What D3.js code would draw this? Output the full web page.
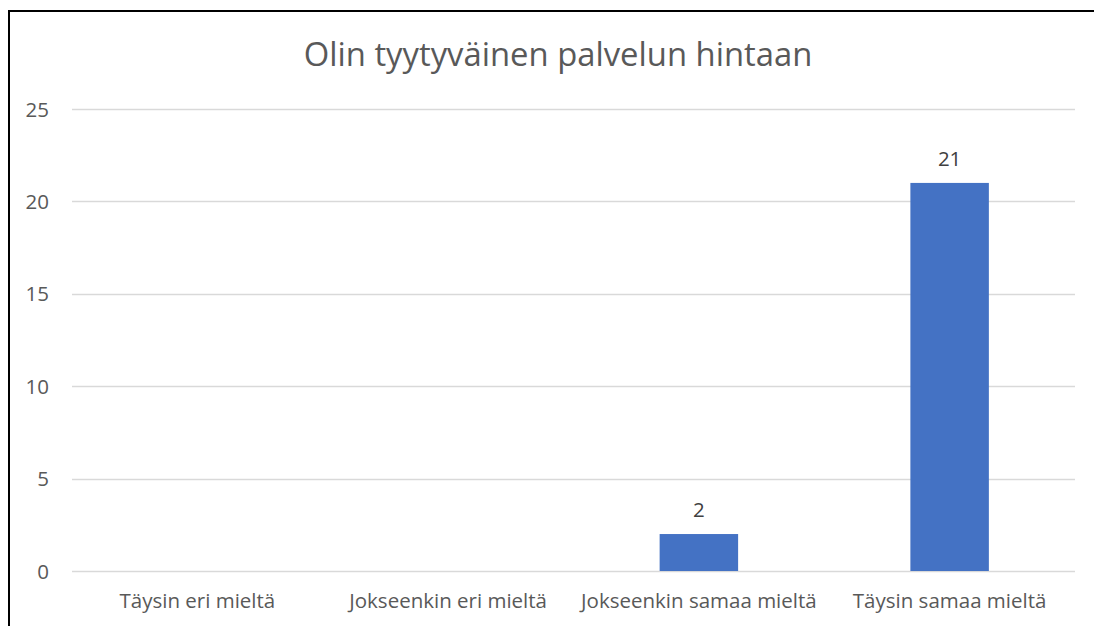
<!DOCTYPE html>
<html><head><meta charset="utf-8">
<script src="https://cdn.jsdelivr.net/npm/d3@7"></script>
<style>body{margin:0;background:#fff}svg{display:block}</style>
</head><body>
<script>
const categories = ["Täysin eri mieltä","Jokseenkin eri mieltä","Jokseenkin samaa mieltä","Täysin samaa mieltä"];
const values = [0,0,2,21];
const yTicks = [0,5,10,15,20,25];
const title = "Olin tyytyväinen palvelun hintaan";

const W = 1094, H = 626;
const svg = d3.select("body").append("svg").attr("width", W).attr("height", H);
const font = "'Open Sans', 'Noto Sans', sans-serif";
const fs = 20.5;

// border (top and left visible)
svg.append("line").attr("x1", 8).attr("x2", W).attr("y1", 11).attr("y2", 11).attr("stroke", "#000").attr("stroke-width", 2);
svg.append("line").attr("x1", 9).attr("x2", 9).attr("y1", 10).attr("y2", H).attr("stroke", "#000").attr("stroke-width", 2);

const m = {left: 72, right: 1075, top: 109, bottom: 571};
const x = d3.scaleBand().domain(categories).range([m.left, m.right]).paddingInner(0.687).paddingOuter(0.3435);
const y = d3.scaleLinear().domain([0, 25]).range([m.bottom, m.top]);

// gridlines
svg.append("g").selectAll("line").data(yTicks).join("line")
  .attr("x1", m.left).attr("x2", m.right)
  .attr("y1", d => Math.round(y(d)) + 0.5).attr("y2", d => Math.round(y(d)) + 0.5)
  .attr("stroke", "#d9d9d9").attr("stroke-width", 1.3);

// y axis labels
const yAxis = d3.axisLeft(y).tickValues(yTicks).tickSize(0).tickPadding(0);
const yg = svg.append("g").attr("transform", `translate(49,0)`).call(yAxis);
yg.select(".domain").remove();
yg.selectAll("text").attr("font-family", font).attr("font-size", fs).attr("fill", "#595959").attr("dy", "0.35em");

// x axis labels
const xAxis = d3.axisBottom(x).tickSize(0).tickPadding(0);
const xg = svg.append("g").attr("transform", `translate(0,${m.bottom})`).call(xAxis);
xg.select(".domain").remove();
xg.selectAll("text").attr("font-family", font).attr("font-size", fs).attr("fill", "#595959")
  .attr("y", 37).attr("dy", 0);

const rows = values.map((v, i) => ({c: categories[i], v})).filter(d => d.v > 0);

// bars
svg.append("g").selectAll("rect").data(rows).join("rect")
  .attr("x", d => x(d.c)).attr("width", x.bandwidth())
  .attr("y", d => y(d.v)).attr("height", d => y(0) - y(d.v))
  .attr("fill", "#4472c4");

// data labels
svg.append("g").selectAll("text").data(rows).join("text")
  .attr("x", d => x(d.c) + x.bandwidth() / 2).attr("y", d => y(d.v) - 17)
  .attr("text-anchor", "middle").attr("font-family", font).attr("font-size", fs).attr("fill", "#404040")
  .text(d => d.v);

// title
svg.append("text").attr("x", 558).attr("y", 66).attr("text-anchor", "middle")
  .attr("font-family", font).attr("font-size", 32.8).attr("font-weight", 400).attr("fill", "#595959").text(title);
</script>
</body></html>
